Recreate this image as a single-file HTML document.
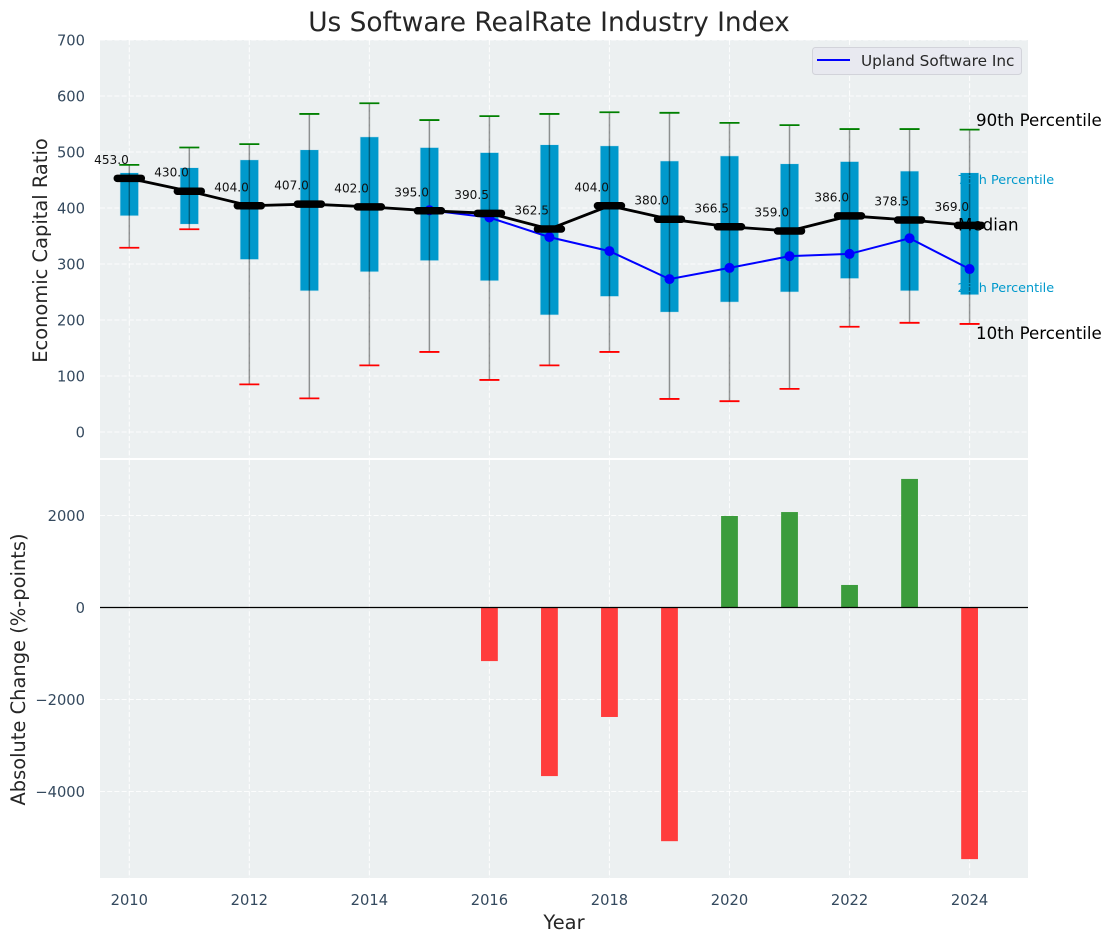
<!DOCTYPE html>
<html lang="en">
<head>
<meta charset="utf-8">
<title>Us Software RealRate Industry Index</title>
<style>
html,body{margin:0;padding:0;background:#fff;}
svg{display:block;font-family:"DejaVu Sans","Liberation Sans",sans-serif;}
</style>
</head>
<body>
<svg id="chart" xmlns="http://www.w3.org/2000/svg" width="1111" height="942" viewBox="0 0 1111 942">
  <rect x="100" y="40" width="928" height="418" fill="#ecf0f1"/>
  <rect x="100" y="460" width="928" height="418" fill="#ecf0f1"/>
  <g id="grid"></g>
  <g id="boxes"></g>
  <g id="bars"></g>
  <g id="lines"></g>
  <g id="ticks" font-size="14.7" fill="#34495e"></g>
  <g id="values" font-size="12.1" fill="#111"></g>

  <text x="549" y="31" text-anchor="middle" font-size="26.4" fill="#262626">Us Software RealRate Industry Index</text>
  <text transform="translate(47 250.5) rotate(-90)" text-anchor="middle" font-size="19.44" fill="#262626">Economic Capital Ratio</text>
  <text transform="translate(25 669.5) rotate(-90)" text-anchor="middle" font-size="19.44" fill="#262626">Absolute Change (%-points)</text>
  <text x="564" y="929" text-anchor="middle" font-size="19.44" fill="#262626">Year</text>

  <text x="976" y="126" font-size="16.67" fill="#000">90th Percentile</text>
  <text x="957.5" y="184" font-size="12.8" fill="#0099cc">75th Percentile</text>
  <text x="958" y="230.5" font-size="16.67" fill="#000">Median</text>
  <text x="957.5" y="292" font-size="12.8" fill="#0099cc">25th Percentile</text>
  <text x="976" y="339" font-size="16.67" fill="#000">10th Percentile</text>

  <g>
    <rect x="812.5" y="47.5" width="209" height="27" rx="3" fill="#e8e9f0" stroke="#d2d3da" stroke-width="1"/>
    <line x1="817" y1="60" x2="850" y2="60" stroke="#0000ff" stroke-width="2"/>
    <text x="861" y="66" font-size="15.28" fill="#262626">Upland Software Inc</text>
  </g>
</svg>
<script>
const years = [2010,2011,2012,2013,2014,2015,2016,2017,2018,2019,2020,2021,2022,2023,2024];
const p90 = [477,508,514,568,587,557,564,568,571,570,552,548,541,541,540];
const p75 = [463,472,486,504,527,508,499,513,511,484,493,479,483,466,463];
const median = [453,430,404,407,402,395,390.5,362.5,404,380,366.5,359,386,378.5,369];
const p25 = [386,371,308,252,286,306,270,209,242,214,232,250,274,252,245];
const p10 = [329,362,85,60,119,143,93,119,143,59,55,77,188,195,193];
const uplandYears = [2015,2016,2017,2018,2019,2020,2021,2022,2023,2024];
const uplandValues = [396,383,348,323,273,293,314,318,346,291];
const changeYears = [2016,2017,2018,2019,2020,2021,2022,2023,2024];
const changeValues = [-1165,-3665,-2380,-5080,1990,2075,490,2795,-5470];
const topTicks = [0,100,200,300,400,500,600,700];
const bottomTicks = [-4000,-2000,0,2000];
const xTicks = [2010,2012,2014,2016,2018,2020,2022,2024];

const NS = 'http://www.w3.org/2000/svg';
const xAxis = function (v) { return 129.3 + (v - 2010) * 60.02; };
const yTop = function (v) { return 432 - v * 0.56; };
const yBottom = function (v) { return 607.5 - v * 0.046; };
const BOX_WIDTH_YEARS = 0.3;
const BAR_WIDTH_YEARS = 0.28;
const CAP_HALF = 10;
const MEDIAN_HALF = 12;

function make(tag, parentId, attrs, text) {
  const el = document.createElementNS(NS, tag);
  for (const k in attrs) el.setAttribute(k, attrs[k]);
  if (text !== undefined) el.textContent = text;
  document.getElementById(parentId).appendChild(el);
  return el;
}

/* gridlines */
const gridStyle = {stroke:'#ffffff','stroke-width':1.1,'stroke-dasharray':'5 2.2','stroke-opacity':0.85};
topTicks.forEach(function (t) {
  const el = make('line','grid',Object.assign({x1:100,x2:1028,y1:yTop(t),y2:yTop(t)},gridStyle));
  
  
});
bottomTicks.forEach(function (t) {
  const el = make('line','grid',Object.assign({x1:100,x2:1028,y1:yBottom(t),y2:yBottom(t)},gridStyle));
  
  
});
xTicks.forEach(function (t) {
  const a = make('line','grid',Object.assign({x1:xAxis(t),x2:xAxis(t),y1:40,y2:458},gridStyle));
  
  
  const b = make('line','grid',Object.assign({x1:xAxis(t),x2:xAxis(t),y1:460,y2:878},gridStyle));
  
  
});

/* percentile boxes, whiskers, caps */
years.forEach(function (yr, i) {
  const cx = xAxis(yr);
  const w = BOX_WIDTH_YEARS * 60.02 + 0.5;
  const box = make('rect','boxes',{x:cx - w / 2,y:yTop(p75[i]),width:w,height:yTop(p25[i]) - yTop(p75[i]),fill:'#0099cc',stroke:'#cfe6ee','stroke-width':0.6});
  
  
  const whisker = make('line','boxes',{x1:cx,x2:cx,y1:yTop(p90[i]),y2:yTop(p10[i]),stroke:'#000','stroke-opacity':0.4,'stroke-width':1.5});
  
  
  const capTop = make('line','boxes',{x1:cx - CAP_HALF,x2:cx + CAP_HALF,y1:yTop(p90[i]),y2:yTop(p90[i]),stroke:'#008000','stroke-width':1.8});
  
  
  const capBottom = make('line','boxes',{x1:cx - CAP_HALF,x2:cx + CAP_HALF,y1:yTop(p10[i]),y2:yTop(p10[i]),stroke:'#ff0000','stroke-width':1.8});
  
  
});

/* change bars */
changeYears.forEach(function (yr, i) {
  const v = changeValues[i];
  const w = BAR_WIDTH_YEARS * 60.02;
  const y0 = yBottom(0), y1 = yBottom(v);
  const bar = make('rect','bars',{x:xAxis(yr) - w / 2,y:Math.min(y0,y1),width:w,height:Math.abs(y1 - y0),fill:v >= 0 ? '#3b9c3c' : '#ff3c3c'});
  
  
});
const zero = make('line','bars',{x1:100,x2:1028,y1:yBottom(0),y2:yBottom(0),stroke:'#000','stroke-width':1.3});



/* upland series */
const uplandLine = make('polyline','lines',{fill:'none',stroke:'#0000ff','stroke-width':2,points:uplandYears.map(function (y,i) { return xAxis(y) + ',' + yTop(uplandValues[i]); }).join(' ')});


uplandYears.forEach(function (y,i) {
  const dot = make('circle','lines',{cx:xAxis(y),cy:yTop(uplandValues[i]),r:5,fill:'#0000ff'});
  
  
});

/* median series */
const medianLine = make('polyline','lines',{fill:'none',stroke:'#000','stroke-width':2.8,points:years.map(function (y,i) { return xAxis(y) + ',' + yTop(median[i]); }).join(' ')});


years.forEach(function (y,i) {
  const cx = xAxis(y), cy = yTop(median[i]);
  const mark = make('line','lines',{x1:cx - MEDIAN_HALF,x2:cx + MEDIAN_HALF,y1:cy,y2:cy,stroke:'#000','stroke-width':7.5,'stroke-linecap':'round'});
  
  
  const label = make('text','values',{x:cx - 0.5,y:cy - 14.5,'text-anchor':'end'},median[i].toFixed(1));
  
  
});

/* tick labels */
topTicks.forEach(function (t) {
  const el = make('text','ticks',{x:85,y:yTop(t) + 5.5,'text-anchor':'end'},String(t));
  
  
});
bottomTicks.forEach(function (t) {
  const el = make('text','ticks',{x:85,y:yBottom(t) + 5.5,'text-anchor':'end'},String(t).replace('-','\u2212'));
  
  
});
xTicks.forEach(function (t) {
  const el = make('text','ticks',{x:xAxis(t),y:905,'text-anchor':'middle'},String(t));
  
  
});
</script>
</body>
</html>
